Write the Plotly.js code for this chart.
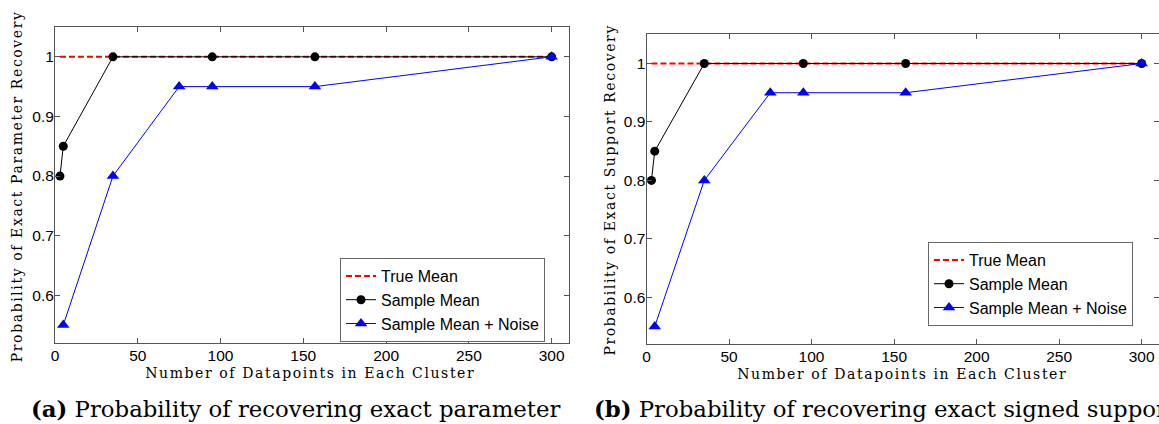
<!DOCTYPE html>
<html>
<head>
<meta charset="utf-8">
<script src="https://cdn.plot.ly/plotly-3.0.1.min.js"></script>
<style>
html,body{margin:0;padding:0;background:#fff;}
#chart{width:1159px;height:424px;}
.annotation[data-index="0"] text, .annotation[data-index="1"] text,
.annotation[data-index="2"] text, .annotation[data-index="3"] text {letter-spacing:1.6px;}
</style>
</head>
<body>
<div id="chart"></div>
<script>
// ---- data ----
const sampleX = [3, 5, 35, 95, 157, 300];
const sampleY = [0.8, 0.85, 1, 1, 1, 1];
const noiseX = [5, 35, 75, 95, 157, 300];
const noiseY = [0.55, 0.8, 0.95, 0.95, 0.95, 1];
const trueX = [3, 5, 35, 95, 157, 300];
const trueY = [1, 1, 1, 1, 1, 1];
const xTicks = [0, 50, 100, 150, 200, 250, 300];
const yTicks = [0.6, 0.7, 0.8, 0.9, 1];
const yTickText = ['0.6', '0.7', '0.8', '0.9', '1'];
const seriesNames = ['True Mean', 'Sample Mean', 'Sample Mean + Noise'];
const xTitle = 'Number of Datapoints in Each Cluster';
const yTitleA = 'Probability of Exact Parameter Recovery';
const yTitleB = 'Probability of Exact Support Recovery';
const captionA = '<b>(a)</b> Probability of recovering exact parameter';
const captionB = '<b>(b)</b> Probability of recovering exact signed support';

const W = 1159, H = 424;
const px = v => v / W;
const py = v => 1 - v / H;

function traces(xa, ya, leg) {
  return [
    {x: trueX, y: trueY, xaxis: xa, yaxis: ya, legend: leg, name: seriesNames[0], mode: 'lines',
     line: {color: '#ff0000', width: 2, dash: '6px,3px'}},
    {x: sampleX, y: sampleY, xaxis: xa, yaxis: ya, legend: leg, name: seriesNames[1], mode: 'lines+markers',
     line: {color: '#000000', width: 1}, marker: {symbol: 'circle', size: 9, color: '#000000'}},
    {x: noiseX, y: noiseY, xaxis: xa, yaxis: ya, legend: leg, name: seriesNames[2], mode: 'lines+markers',
     line: {color: '#0000ff', width: 1}, marker: {symbol: 'triangle-up', size: 11, color: '#0000ff'}}
  ];
}

const data = traces('x', 'y', 'legend').concat(traces('x2', 'y2', 'legend2'));

const tickFont = {family: 'Liberation Sans, Arial, sans-serif', size: 15.5, color: '#000'};
function xaxis(dom) {
  return {domain: dom, range: [0, 310.5], tickvals: xTicks, ticktext: xTicks.map(String),
    ticks: 'inside', ticklen: 5, tickcolor: '#555', linecolor: '#555', linewidth: 1, mirror: 'ticks',
    showline: true, showgrid: false, zeroline: false, tickfont: tickFont, fixedrange: true,
    ticklabelstandoff: -2};
}
function yaxis(dom, anchor) {
  return {domain: dom, anchor: anchor, range: [0.52, 1.05], tickvals: yTicks, ticktext: yTickText,
    ticks: 'inside', ticklen: 5, tickcolor: '#555', linecolor: '#555', linewidth: 1, mirror: 'ticks',
    showline: true, showgrid: false, zeroline: false, tickfont: tickFont, fixedrange: true,
    ticklabelstandoff: -3};
}

const legFont = {family: 'Liberation Sans, Arial, sans-serif', size: 16, color: '#000'};
function legend(x, y) {
  return {x: px(x), y: py(y), xanchor: 'left', yanchor: 'top', xref: 'paper', yref: 'paper',
    bgcolor: '#fff', bordercolor: '#666', borderwidth: 1, font: legFont,
    itemwidth: 30, tracegroupgap: 0};
}

const titleFont = {family: 'DejaVu Serif, serif', size: 14, color: '#000'};
const capFont = {family: 'DejaVu Serif, serif', size: 22.8, color: '#000'};

const layout = {
  width: W, height: H,
  margin: {l: 0, r: 0, t: 0, b: 0},
  paper_bgcolor: '#fff', plot_bgcolor: '#fff',
  showlegend: true,
  xaxis: xaxis([px(55), px(569)]),
  yaxis: yaxis([py(343), py(27)], 'x'),
  xaxis2: Object.assign(xaxis([px(646.5), 1]), {anchor: 'y2'}),
  yaxis2: yaxis([py(344), py(34.3)], 'x2'),
  legend: legend(340, 258),
  legend2: legend(928, 242),
  annotations: [
    {text: yTitleA, xref: 'paper', yref: 'paper', x: px(17), y: py(187), textangle: -90,
     showarrow: false, font: titleFont, xanchor: 'center', yanchor: 'middle'},
    {text: yTitleB, xref: 'paper', yref: 'paper', x: px(610), y: py(190), textangle: -90,
     showarrow: false, font: titleFont, xanchor: 'center', yanchor: 'middle'},
    {text: xTitle, xref: 'paper', yref: 'paper', x: px(310), y: py(373),
     showarrow: false, font: titleFont, xanchor: 'center', yanchor: 'middle'},
    {text: xTitle, xref: 'paper', yref: 'paper', x: px(902), y: py(374),
     showarrow: false, font: titleFont, xanchor: 'center', yanchor: 'middle'},
    {text: captionA, xref: 'paper', yref: 'paper', x: px(29), y: py(409),
     showarrow: false, font: capFont, xanchor: 'left', yanchor: 'middle'},
    {text: captionB, xref: 'paper', yref: 'paper', x: px(592), y: py(409),
     showarrow: false, font: capFont, xanchor: 'left', yanchor: 'middle'}
  ]
};

Plotly.newPlot('chart', data, layout, {displayModeBar: false, staticPlot: true});
</script>
</body>
</html>
